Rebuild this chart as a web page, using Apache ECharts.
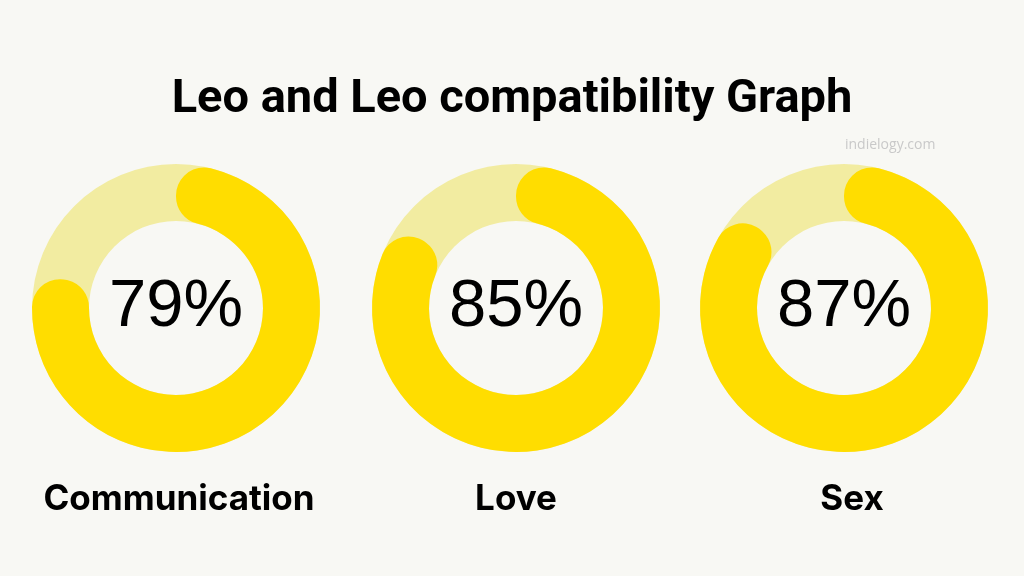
<!DOCTYPE html>
<html>
<head>
<meta charset="utf-8">
<script src="https://cdn.jsdelivr.net/npm/echarts@6/dist/echarts.min.js"></script>
<style>
  html, body { margin: 0; padding: 0; background: #f8f8f4; }
  #main { width: 1024px; height: 576px; }
</style>
</head>
<body>
<div id="main"></div>
<script>
// chart data
const categories = ['Communication', 'Love', 'Sex']
const scores = [79, 85, 87]
const chartTitle = 'Leo and Leo compatibility Graph'
const sourceText = 'indielogy.com'

const chartDom = document.getElementById('main')
const myChart = echarts.init(chartDom)

// layout of the three rings
const centers = [[176, 308], [516, 308], [844, 308]]
const labelX = [179, 516, 852]
const radius = [87, 144]
const trackColor = '#f2eca1'
const barColor = '#ffdd00'

const series = []
scores.forEach(function(score, i) {
  // background track
  series.push({
    type: 'pie',
    silent: true,
    center: centers[i],
    radius: radius,
    label: { show: false },
    labelLine: { show: false },
    data: [{ value: 100, itemStyle: { color: trackColor } }]
  })
  // progress arc with rounded ends
  series.push({
    type: 'pie',
    silent: true,
    startAngle: 90,
    clockwise: true,
    center: centers[i],
    radius: radius,
    avoidLabelOverlap: false,
    labelLine: { show: false },
    data: [
      {
        value: score,
        name: categories[i],
        itemStyle: { color: barColor, borderRadius: 28 },
        label: {
          show: true,
          position: 'center',
          formatter: '{c}%',
          color: '#000',
          fontFamily: 'Liberation Sans',
          fontSize: 67,
          fontWeight: 'normal'
        }
      },
      {
        value: 100 - score,
        itemStyle: { color: 'transparent' },
        label: { show: false }
      }
    ]
  })
})

const titles = [
  {
    text: chartTitle,
    left: 'center',
    top: 77,
    padding: 0,
    textStyle: { fontFamily: 'Roboto', fontWeight: 'bold', fontSize: 47, color: '#000' }
  },
  {
    text: sourceText,
    left: 845,
    top: 138,
    padding: 0,
    textStyle: { fontFamily: 'Open Sans', fontWeight: 'normal', fontSize: 14, color: '#c9c9c9' }
  }
]
categories.forEach(function(name, i) {
  titles.push({
    text: name,
    left: labelX[i],
    top: 482,
    padding: 0,
    textAlign: 'center',
    textStyle: { fontFamily: 'Inter', fontWeight: 'bold', fontSize: 35, color: '#000' }
  })
})

const option = {
  backgroundColor: '#f8f8f4',
  animation: false,
  title: titles,
  series: series
}

option && myChart.setOption(option)
</script>
</body>
</html>
